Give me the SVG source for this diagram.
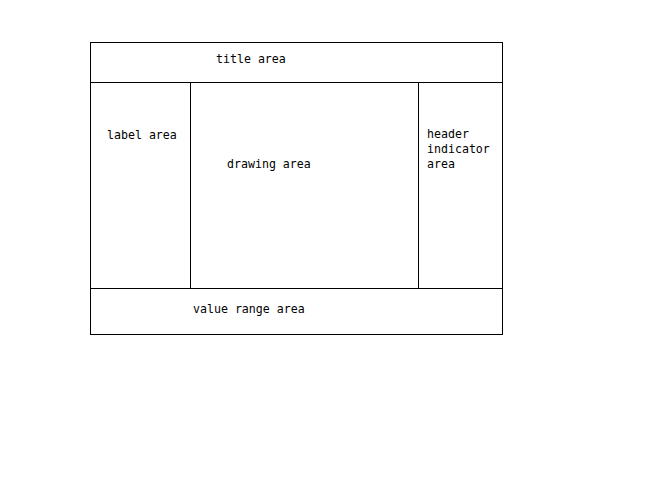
<svg xmlns="http://www.w3.org/2000/svg" width="660" height="498" viewBox="0 0 660 498">
<style>
.b{fill:#fff;stroke:#000;stroke-width:1}
.t{font-family:"DejaVu Sans Mono","Liberation Mono",monospace;font-size:11.6px;fill:#000}
</style>
<rect width="660" height="498" fill="#fff"/>
<g id="title"><rect class="b" x="90.5" y="42.5" width="412" height="40"/><text class="t" x="216" y="63">title area</text></g>
<g id="label"><rect class="b" x="90.5" y="82.5" width="100" height="206"/><text class="t" x="107" y="139">label area</text></g>
<g id="drawing"><rect class="b" x="190.5" y="82.5" width="228" height="206"/><text class="t" x="227" y="168">drawing area</text></g>
<g id="header"><rect class="b" x="418.5" y="82.5" width="84" height="206"/><text class="t" x="427" y="138">header</text><text class="t" x="427" y="153">indicator</text><text class="t" x="427" y="168">area</text></g>
<g id="value"><rect class="b" x="90.5" y="288.5" width="412" height="46"/><text class="t" x="193" y="313">value range area</text></g>
<g id="connectors"></g>
</svg>
